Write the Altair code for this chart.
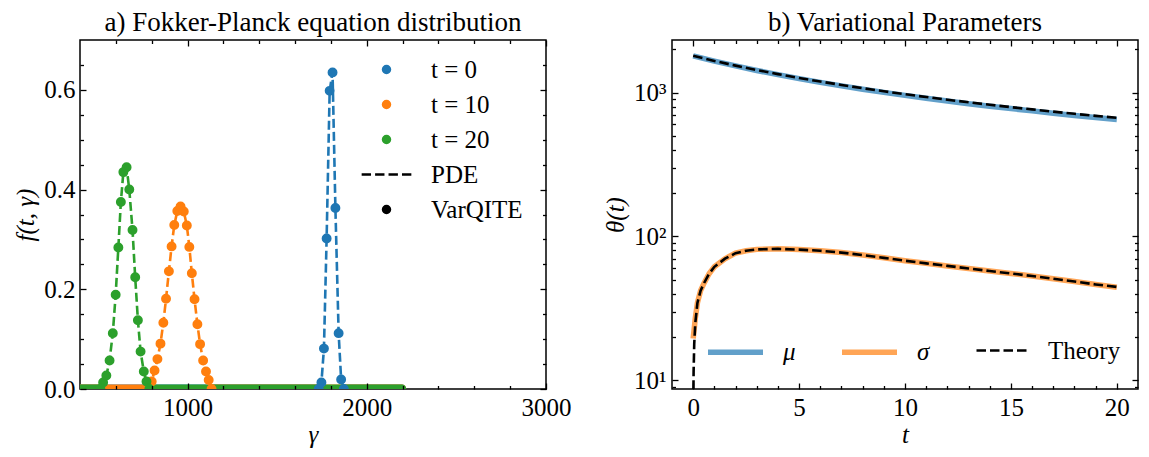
import altair as alt
import pandas as pd

FONT = "Liberation Serif"
FS = 25

# ---------------- panel a) : f(t, gamma) ----------------
series_labels = ["t = 0", "t = 10", "t = 20"]
series_colors = ["#1f77b4", "#ff7f0e", "#2ca02c"]

gamma_t0 = [1732, 1747, 1761, 1776, 1793, 1809, 1825, 1843, 1857, 1872]
f_t0 = [0.0, 0.013, 0.081, 0.302, 0.598, 0.635, 0.363, 0.112, 0.019, 0.0]

gamma_t10 = [784, 800, 816, 832, 849, 865, 880, 896, 911, 926, 943, 961,
             979, 996, 1010, 1024, 1039, 1055, 1070, 1087, 1103, 1118, 1134]
f_t10 = [0.0, 0.015, 0.037, 0.060, 0.091, 0.133, 0.181, 0.236, 0.286, 0.329, 0.357, 0.366,
         0.356, 0.328, 0.285, 0.232, 0.180, 0.130, 0.090, 0.057, 0.035, 0.018, 0.0]

gamma_t20 = [514, 529, 547, 565, 583, 599, 614, 628, 642, 660, 675, 693,
             708, 723, 738, 756, 771, 787]
f_t20 = [0.0, 0.013, 0.027, 0.057, 0.112, 0.189, 0.284, 0.375, 0.435, 0.445, 0.400, 0.319,
         0.224, 0.138, 0.075, 0.035, 0.015, 0.0]

# stretches where each VarQITE grid sits on f = 0 (dense row of dots)
zero_series = ["t = 0", "t = 0", "t = 10", "t = 10", "t = 20", "t = 20"]
zero_from = [400, 1872, 400, 1134, 400, 787]
zero_to = [1732, 2195, 784, 2195, 514, 2195]

legend_entries = series_labels + ["PDE", "VarQITE"]
legend_colors = series_colors + ["black", "black"]
DASH = "M-7.1,0H-4.42M-3.26,0H-0.58M0.58,0H3.26M4.42,0H7.1"
legend_shapes = ["circle", "circle", "circle", DASH, "circle"]

gamma_major = [1000, 2000, 3000]
gamma_minor = [600, 800, 1200, 1400, 1600, 1800, 2200, 2400, 2600, 2800]
f_major = [0.0, 0.2, 0.4, 0.6]
f_minor = [0.05, 0.1, 0.15, 0.25, 0.3, 0.35, 0.45, 0.5, 0.55, 0.65]

# ---------------- panel b) : variational parameters ----------------
t_vq = [0, 1, 2, 3, 4, 5, 6, 7, 8, 9, 10, 11, 12, 13, 14, 15, 16, 17, 18, 19, 20]
mu_vq = [1800, 1655, 1532, 1425, 1332, 1250, 1178, 1113, 1055, 1003, 956,
         912, 873, 837, 804, 774, 746, 719, 694, 671, 650]
mu_th = [1800, 1659, 1539, 1435, 1344, 1264, 1193, 1130, 1072, 1021, 974,
         931, 892, 856, 823, 792, 764, 737, 712, 689, 668]

t_sig_vq = [0, 0.1, 0.2, 0.35, 0.5, 0.75, 1, 1.5, 2, 2.5, 3, 4, 5, 6, 7, 8, 9,
            10, 11, 12, 13, 14, 15, 16, 17, 18, 19, 20]
sig_vq = [19.5, 27, 34.5, 42, 47, 55, 61.5, 70, 76.5, 79.5, 81.3, 82, 81, 79.5, 77.2,
          74.3, 71, 67.8, 65, 62.4, 59.9, 57.5, 55.3, 53.1, 50.8, 48.6, 46.4, 44.3]
t_sig_th = [0.003, 0.01, 0.02, 0.05, 0.1, 0.2, 0.35, 0.5, 0.75, 1, 1.5, 2, 2.5, 3, 4, 5,
            6, 7, 8, 9, 10, 11, 12, 13, 14, 15, 16, 17, 18, 19, 20]
sig_th = [4.5, 8, 11.5, 18, 25, 34.5, 42, 47, 55, 61.5, 70, 76.5, 79.5, 81.3, 82, 81,
          79.5, 77.2, 74.3, 71, 67.8, 65, 62.4, 59.9, 57.5, 55.3, 53.1, 50.8, 48.6, 46.4, 44.6]

param_labels = ["μ", "σ"]
param_colors = ["#62a0ca", "#ffa556"]

t_major = [0, 5, 10, 15, 20]
t_minor = [1, 2, 3, 4, 6, 7, 8, 9, 11, 12, 13, 14, 16, 17, 18, 19]
th_major = [10, 100, 1000]
th_minor = [9, 20, 30, 40, 50, 60, 70, 80, 90, 200, 300, 400, 500, 600, 700, 800, 900, 2000]

W, H = 466, 349


def tick_axis(orient, values, size):
    return alt.Axis(orient=orient, values=values, labels=False, ticks=True, domain=False,
                    grid=False, title=None, tickSize={"expr": str(-size)},
                    tickColor="black", tickWidth=1.3, zindex=1)


def label_axis(orient, values, title, fmt=None, expr=None, pad=6, tpad=4):
    kw = dict(orient=orient, values=values, ticks=False, domain=False, grid=False,
              title=title, titleFontStyle="italic", titleFontWeight="normal",
              titleFontSize=FS, labelFontSize=FS, labelColor="black", titleColor="black",
              labelFont=FONT, titleFont=FONT,
              labelPadding=pad, titlePadding=tpad, labelFlush=False, labelOverlap=False)
    if fmt:
        kw["format"] = fmt
    if expr:
        kw["labelExpr"] = expr
    return alt.Axis(**kw)


def carriers(df, xf, yf, xs, ys, xlab, ylab, xmaj, xmin, ymaj, ymin):
    pairs = [
        (xlab, ylab),
        (tick_axis("bottom", xmaj, 6), tick_axis("left", ymaj, 6)),
        (tick_axis("bottom", xmin, 3.5), tick_axis("left", ymin, 3.5)),
        (tick_axis("top", xmaj, 6), tick_axis("right", ymaj, 6)),
        (tick_axis("top", xmin, 3.5), tick_axis("right", ymin, 3.5)),
    ]
    out = []
    for xa, ya in pairs:
        out.append(alt.Chart(df).mark_point(opacity=0).encode(
            x=alt.X(xf, type="quantitative", scale=xs, axis=xa),
            y=alt.Y(yf, type="quantitative", scale=ys, axis=ya)))
    return out


# ---- build panel a
pts = pd.concat([
    pd.DataFrame({"gamma": gamma_t0, "f": f_t0, "entry": series_labels[0]}),
    pd.DataFrame({"gamma": gamma_t10, "f": f_t10, "entry": series_labels[1]}),
    pd.DataFrame({"gamma": gamma_t20, "f": f_t20, "entry": series_labels[2]}),
], ignore_index=True)
zero_df = pd.DataFrame({"entry": zero_series, "g0": zero_from, "g1": zero_to})

xs_a = alt.Scale(domain=[400, 3000], nice=False, zero=False)
ys_a = alt.Scale(domain=[0, 0.7], nice=False, zero=False)
series_scale = alt.Scale(domain=series_labels, range=series_colors)
col_scale = alt.Scale(domain=legend_entries, range=legend_colors)
shp_scale = alt.Scale(domain=legend_entries, range=legend_shapes)

leg_a = alt.Legend(title=None, orient="none", legendX=294, legendY=17, padding=0,
                   symbolSize=49, symbolStrokeWidth=2.5, labelOffset=32, rowPadding=9,
                   labelFontSize=FS, labelFont=FONT, labelColor="black", labelLimit=400)

pde = alt.Chart(pts).mark_line(strokeDash=[9, 4], strokeWidth=2.6, clip=True).encode(
    x=alt.X("gamma:Q", scale=xs_a, axis=None),
    y=alt.Y("f:Q", scale=ys_a, axis=None),
    color=alt.Color("entry:N", scale=series_scale, legend=None),
)
band = alt.Chart(zero_df).mark_rule(strokeWidth=9, strokeCap="round", clip=True).encode(
    x=alt.X("g0:Q", scale=xs_a, axis=None),
    x2="g1:Q",
    y=alt.YDatum(0, scale=ys_a, axis=None),
    color=alt.Color("entry:N", scale=series_scale, legend=None),
)
dots = alt.Chart(pts).mark_point(filled=True, size=55, strokeWidth=2.5, opacity=1, clip=True).encode(
    x=alt.X("gamma:Q", scale=xs_a, axis=None),
    y=alt.Y("f:Q", scale=ys_a, axis=None),
    fill=alt.Fill("entry:N", scale=col_scale, legend=leg_a),
    stroke=alt.Stroke("entry:N", scale=col_scale, legend=leg_a),
    shape=alt.Shape("entry:N", scale=shp_scale, legend=leg_a),
)

ca = carriers(pts, "gamma", "f", xs_a, ys_a,
              label_axis("bottom", gamma_major, "γ", fmt="d", pad=6, tpad=2),
              label_axis("left", f_major, "f(t, γ)", fmt=".1f", pad=5, tpad=5),
              gamma_major, gamma_minor, f_major, f_minor)

panel_a = alt.layer(pde, band, dots, *ca).resolve_axis(x="independent", y="independent").properties(
    width=W, height=H,
    title=alt.TitleParams("a) Fokker-Planck equation distribution", fontSize=27, font=FONT,
                          fontWeight="normal", anchor="middle", frame="group", offset=2,
                          color="black"),
)

# ---- build panel b
vq_df = pd.concat([
    pd.DataFrame({"t": t_vq, "value": mu_vq, "param": param_labels[0]}),
    pd.DataFrame({"t": t_sig_vq, "value": sig_vq, "param": param_labels[1]}),
], ignore_index=True)
th_df = pd.concat([
    pd.DataFrame({"t": t_vq, "value": mu_th, "param": "mu", "kind": "Theory"}),
    pd.DataFrame({"t": t_sig_th, "value": sig_th, "param": "sigma", "kind": "Theory"}),
], ignore_index=True)

xs_b = alt.Scale(domain=[-1, 21], nice=False, zero=False)
ys_b = alt.Scale(type="log", domain=[8.7, 2320], nice=False)

leg_b1 = alt.Legend(title=None, orient="none", legendX=33, legendY=281.5, padding=0,
                    direction="horizontal", symbolType="stroke", symbolSize=3025,
                    symbolStrokeWidth=5.5, labelOffset=17, columnPadding=35,
                    labelFontSize=FS, labelFont=FONT, labelFontStyle="italic", labelColor="black")
leg_b2 = alt.Legend(title=None, orient="none", legendX=303, legendY=284, padding=0,
                    direction="horizontal", symbolType="stroke", symbolSize=2500,
                    symbolStrokeWidth=2.6, symbolStrokeColor="black", labelOffset=20,
                    labelFontSize=FS, labelFont=FONT, labelColor="black")

vq_lines = alt.Chart(vq_df).mark_line(strokeWidth=5.5, clip=True).encode(
    x=alt.X("t:Q", scale=xs_b, axis=None),
    y=alt.Y("value:Q", scale=ys_b, axis=None),
    stroke=alt.Stroke("param:N", scale=alt.Scale(domain=param_labels, range=param_colors), legend=leg_b1),
)
th_lines = alt.Chart(th_df).mark_line(color="black", strokeWidth=2.6, clip=True).encode(
    x=alt.X("t:Q", scale=xs_b, axis=None),
    y=alt.Y("value:Q", scale=ys_b, axis=None),
    detail="param:N",
    strokeDash=alt.StrokeDash("kind:N", scale=alt.Scale(domain=["Theory"], range=[[9.5, 4]]), legend=leg_b2),
)

cb = carriers(vq_df, "t", "value", xs_b, ys_b,
              label_axis("bottom", t_major, "t", fmt="d", pad=6, tpad=2),
              label_axis("left", th_major, "θ(t)",
                         expr="datum.value < 50 ? '10¹' : datum.value < 500 ? '10²' : '10³'",
                         pad=6, tpad=5),
              t_major, t_minor, th_major, th_minor)

panel_b = alt.layer(vq_lines, th_lines, *cb).resolve_axis(x="independent", y="independent").properties(
    width=W, height=H,
    title=alt.TitleParams("b) Variational Parameters", fontSize=27, font=FONT, fontWeight="normal",
                          anchor="middle", frame="group", offset=2, color="black"),
)

chart = alt.hconcat(panel_a, panel_b, spacing=30).resolve_scale(
    color="independent", fill="independent", stroke="independent", shape="independent",
    strokeDash="independent"
).resolve_legend(
    color="independent", fill="independent", stroke="independent", shape="independent",
    strokeDash="independent"
).properties(
    padding={"left": 5, "top": 0, "right": 0, "bottom": 0}
).configure(font=FONT).configure_view(
    stroke="black", strokeWidth=1.5
).configure_axis(labelFont=FONT, titleFont=FONT).configure_legend(
    labelFont=FONT, titleFont=FONT
).configure_title(font=FONT)

chart.save("out.html", embed_options={"renderer": "svg", "actions": False})
